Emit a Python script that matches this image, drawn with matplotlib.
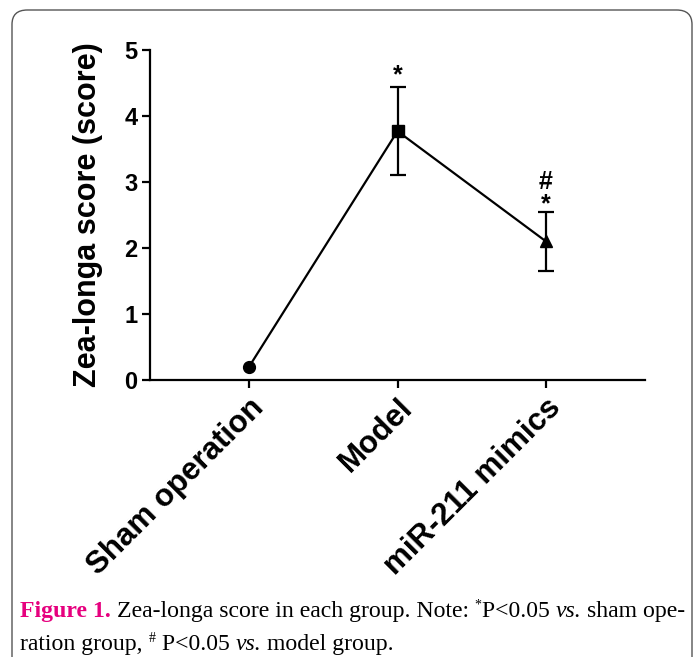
import matplotlib.pyplot as plt
from matplotlib.patches import FancyBboxPatch

groups = ['Sham operation', 'Model', 'miR-211 mimics']
scores = [0.2, 3.77, 2.1]
sd = [0.0, 0.67, 0.45]
markers = ['o', 's', '^']
# significance marks above each group: (text, y)
marks = {1: [('*', 4.62)], 2: [('*', 2.66), ('#', 3.0)]}

plt.rcParams['font.family'] = ['Liberation Sans', 'DejaVu Sans']

fig = plt.figure(figsize=(6.97, 6.57), dpi=100)
ax = fig.add_axes([150 / 697, 277 / 657, 495 / 697, 330 / 657])

x = list(range(len(groups)))
ax.plot(x, scores, color='black', lw=1.6, zorder=2)
for i in x:
    ax.plot(i, scores[i], marker=markers[i], color='black', ms=8.5, zorder=3)
    if sd[i] > 0:
        ax.errorbar(i, scores[i], yerr=sd[i], color='black', lw=1.6,
                    capsize=5.5, capthick=1.6, zorder=2)
for i, lst in marks.items():
    for s, yy in lst:
        ax.text(i, yy, s, ha='center', va='center', fontsize=18, fontweight='bold')

ax.set_xlim(-0.667, 2.667)
ax.set_ylim(0, 5)
ax.set_yticks(range(6))
ax.set_xticks(x)
ax.set_xticklabels(groups, rotation=45, ha='right', rotation_mode='anchor',
                   fontsize=22.5, fontweight='bold')
for lab in ax.get_yticklabels():
    lab.set_fontsize(17)
    lab.set_fontweight('bold')
ax.set_ylabel('Zea-longa score (score)', fontsize=22, fontweight='bold', labelpad=15)
ax.spines['top'].set_visible(False)
ax.spines['right'].set_visible(False)
ax.spines['left'].set_linewidth(1.6)
ax.spines['bottom'].set_linewidth(1.6)
ax.tick_params(width=1.6, length=6, pad=3)

# frame around the whole figure
box = FancyBboxPatch((12 / 697, -0.05), 680 / 697, (657 - 10) / 657 + 0.05,
                     boxstyle='round,pad=0,rounding_size=0.022',
                     transform=fig.transFigure, fill=False, ec='#555555', lw=1)
fig.patches.append(box)

# caption built from pieces
fig.canvas.draw()
r = fig.canvas.get_renderer()
serif = ['Liberation Serif', 'DejaVu Serif']
lines = [
    [('Figure 1.', dict(color='#e6007e', fontweight='bold')),
     (' Zea-longa score in each group. Note: ', {}),
     ('*', dict(fontsize=10, dy=8)),
     ('P<0.05 ', {}),
     ('vs.', dict(style='italic')),
     (' sham ope-', {})],
    [('ration group, ', {}),
     ('#', dict(fontsize=10, dy=8)),
     (' P<0.05 ', {}),
     ('vs.', dict(style='italic')),
     (' model group.', {})],
]
ys = [657 - 617, 657 - 650]
for line, y0 in zip(lines, ys):
    xp = 20
    for s, kw in line:
        kw = dict(kw)
        dy = kw.pop('dy', 0)
        fs = kw.pop('fontsize', 17.1)
        t = fig.text(xp / 697, (y0 + dy) / 657, s, fontsize=fs, family=serif,
                     va='baseline', ha='left', **kw)
        xp += t.get_window_extent(r).width

fig.savefig('out.png', dpi=100)
